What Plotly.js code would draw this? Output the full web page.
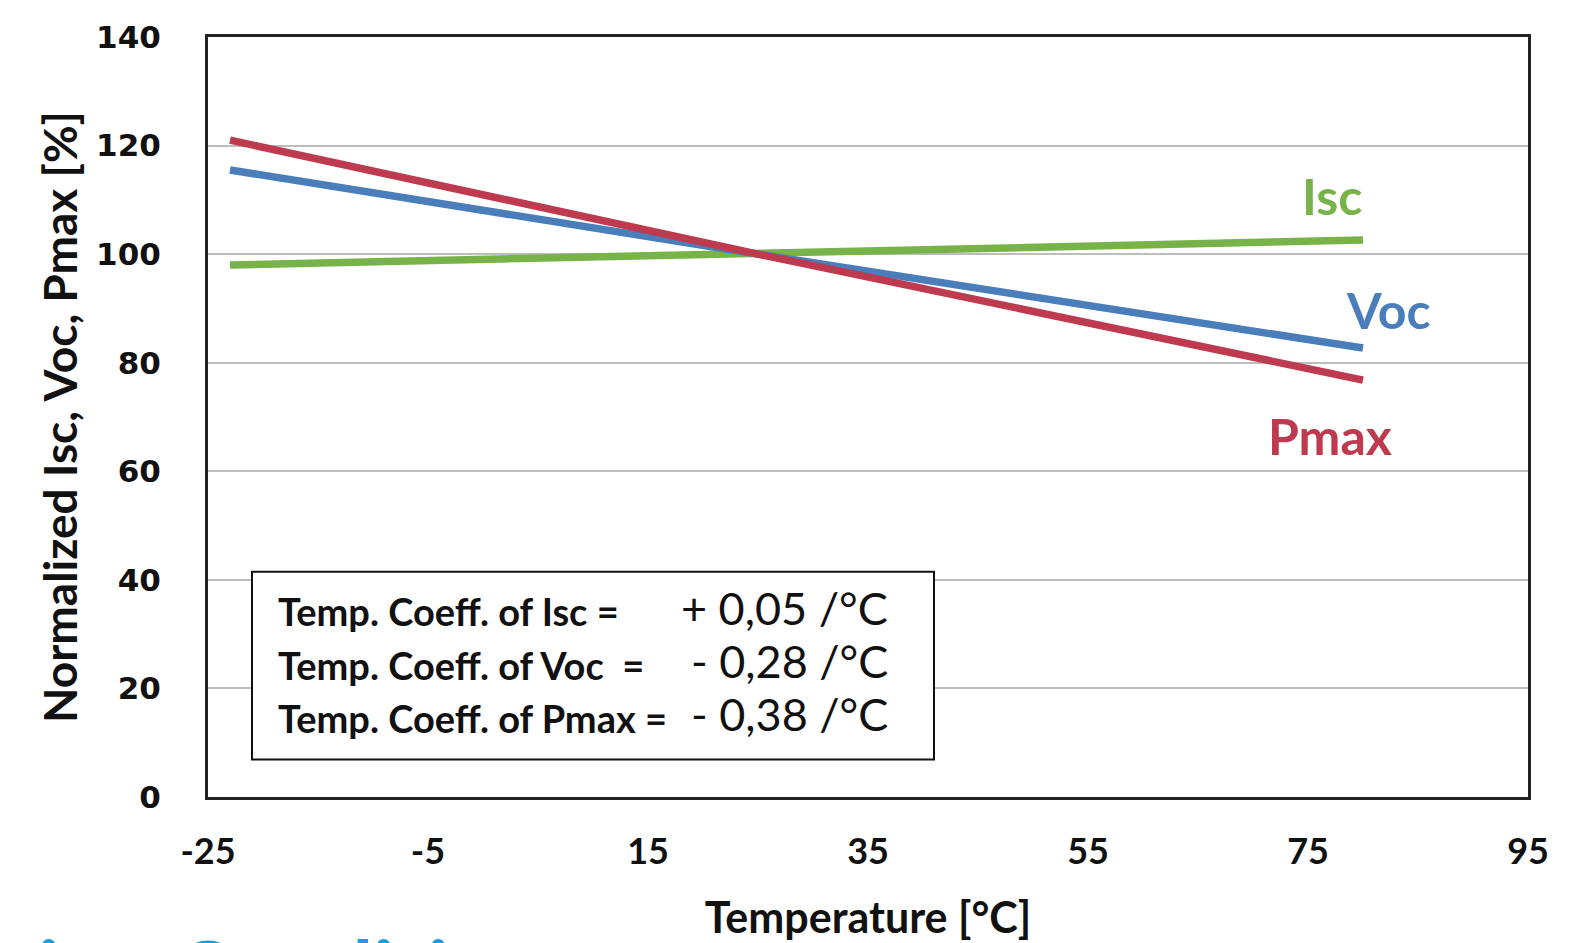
<!DOCTYPE html>
<html>
<head>
<meta charset="utf-8">
<script src="https://cdn.plot.ly/plotly-3.0.1.min.js"></script>
<style>
html,body{margin:0;padding:0;background:#fff;}
#chart{width:1593px;height:943px;}
</style>
</head>
<body>
<div id="chart"></div>
<script>
// ---- data ----
const temperature = [-23, 25, 80];
const isc  = [98.0, 100, 102.6];
const voc  = [115.5, 100, 82.7];
const pmax = [121.0, 100, 76.8];

const xTicks = [-25, -5, 15, 35, 55, 75, 95];
const yTicks = [0, 20, 40, 60, 80, 100, 120, 140];

const seriesNames = ["Isc", "Voc", "Pmax"];
const coeffLabels = ["Temp. Coeff. of Isc =", "Temp. Coeff. of Voc  =", "Temp. Coeff. of Pmax ="];
const coeffValues = ["+ 0,05 /°C", "- 0,28 /°C", "- 0,38 /°C"];

const colors = {Isc: "#78b34a", Voc: "#4a7ebb", Pmax: "#be3a4e"};

const traces = [
  {x: temperature, y: isc,  name: "Isc"},
  {x: temperature, y: voc,  name: "Voc"},
  {x: temperature, y: pmax, name: "Pmax"}
].map(t => Object.assign(t, {
  type: "scatter", mode: "lines",
  line: {color: colors[t.name], width: 7.5},
  hoverinfo: "x+y+name"
}));

const labelFont = "Lato, 'Open Sans', sans-serif";

const annotations = [
  {x: 77.2, y: 110.8, text: "Isc"},
  {x: 82.3, y: 89.8,  text: "Voc"},
  {x: 77.0, y: 66.5,  text: "Pmax"}
].map(a => Object.assign(a, {
  xref: "x", yref: "y", showarrow: false,
  font: {family: labelFont, size: 50, color: colors[a.text], weight: "bold"}
}));

const rowY = [34.2, 24.4, 14.6];
coeffLabels.forEach((txt, i) => {
  annotations.push({
    x: -18.8, y: rowY[i], xref: "x", yref: "y", xanchor: "left", yanchor: "middle",
    text: txt, showarrow: false,
    font: {family: labelFont, size: 38, color: "#111", weight: "bold"}
  });
  annotations.push({
    x: 37.0, y: rowY[i] + 0.6, xref: "x", yref: "y", xanchor: "right", yanchor: "middle",
    text: coeffValues[i], showarrow: false,
    font: {family: labelFont, size: 45, color: "#111"}
  });
});

// partially visible slide heading at the bottom edge (cut off in the reference)
annotations.push({
  xref: "paper", yref: "paper", x: -0.155, y: -0.158,
  xanchor: "left", yanchor: "top",
  text: "tion Conditions", showarrow: false,
  font: {family: labelFont, size: 84, color: "#1a9ee0", weight: "bold"}
});

const layout = {
  width: 1593, height: 943,
  margin: {l: 208, r: 65, t: 37, b: 146},
  paper_bgcolor: "#ffffff",
  plot_bgcolor: "#ffffff",
  showlegend: false,
  xaxis: {
    range: [-25, 95],
    tickvals: xTicks, ticktext: xTicks.map(String),
    showgrid: false, zeroline: false,
    showline: true, mirror: true, linecolor: "#222", linewidth: 3,
    ticks: "", ticklen: 0, ticklabelstandoff: 21,
    tickfont: {family: labelFont, size: 36, color: "#111", weight: "bold"},
    title: {text: "Temperature [°C]", standoff: 32,
            font: {family: labelFont, size: 43, color: "#111", weight: "bold"}}
  },
  yaxis: {
    range: [0, 140],
    tickvals: yTicks, ticktext: yTicks.map(String),
    showgrid: true, gridcolor: "#bdbdbd", gridwidth: 2,
    zeroline: false,
    showline: true, mirror: true, linecolor: "#222", linewidth: 3,
    ticks: "", ticklen: 0, ticklabelstandoff: 38,
    tickfont: {family: "'DejaVu Sans', sans-serif", size: 31, color: "#111", weight: "bold"},
    title: {text: "Normalized Isc, Voc, Pmax [%]", standoff: 4,
            font: {family: labelFont, size: 46, color: "#111", weight: "bold"}}
  },
  shapes: [{
    type: "rect", xref: "x", yref: "y",
    x0: -21.0, x1: 41.0, y0: 6.9, y1: 41.5,
    line: {color: "#111", width: 2}, fillcolor: "#ffffff", layer: "above"
  }],
  annotations: annotations
};

Plotly.newPlot("chart", traces, layout, {displayModeBar: false, staticPlot: true});
</script>
</body>
</html>
